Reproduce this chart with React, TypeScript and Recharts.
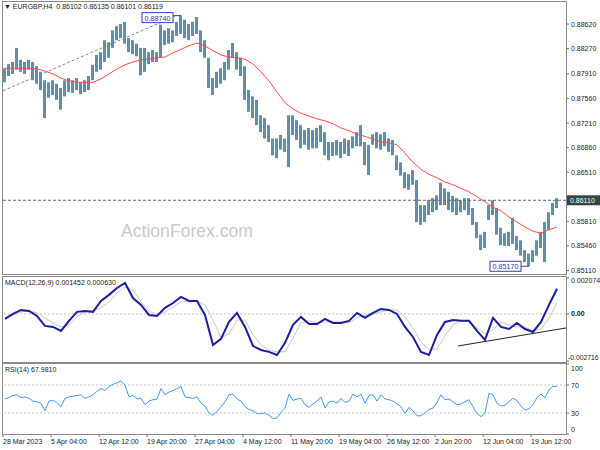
import React from 'react';
import { ComposedChart, Bar, Line, XAxis, YAxis, ReferenceLine, ReferenceDot } from 'recharts';

const FONT = '"Liberation Sans", Arial, sans-serif';

// ---- price candles (H4, sampled), high / low ----
const highs = [
  0.8799, 0.8805, 0.8808, 0.8828, 0.8811, 0.8808, 0.8811, 0.8808, 0.8802, 0.8794,
  0.8782, 0.8779, 0.8782, 0.8777, 0.8771, 0.8782, 0.8785, 0.8782, 0.8785, 0.8779,
  0.8782, 0.8788, 0.8804, 0.8818, 0.8822, 0.8839, 0.8836, 0.8853, 0.8859, 0.8862,
  0.8865, 0.8842, 0.8839, 0.8834, 0.8828, 0.8828, 0.8822, 0.8825, 0.8822, 0.8861,
  0.8853, 0.8856, 0.8853, 0.8865, 0.8874, 0.8868, 0.8862, 0.8865, 0.8872, 0.8853,
  0.8839, 0.8814, 0.8785, 0.8794, 0.8799, 0.8808, 0.8825, 0.8835, 0.8822, 0.8814,
  0.8802, 0.8768, 0.8759, 0.8754, 0.8732, 0.8728, 0.8718, 0.8699, 0.8699, 0.8704,
  0.8699, 0.8732, 0.8732, 0.8725, 0.8718, 0.8711, 0.8714, 0.8711, 0.8714, 0.8718,
  0.8708, 0.8694, 0.8694, 0.8697, 0.8694, 0.8699, 0.8697, 0.8702, 0.8708, 0.8718,
  0.8694, 0.8690, 0.8705, 0.8708, 0.8705, 0.8708, 0.8699, 0.8697, 0.8675, 0.8665,
  0.8651, 0.8648, 0.8654, 0.8640, 0.8604, 0.8604, 0.8611, 0.8614, 0.8618, 0.8636,
  0.8628, 0.8623, 0.8617, 0.8614, 0.8611, 0.8614, 0.8614, 0.8600, 0.8580, 0.8562,
  0.8566, 0.8604, 0.8611, 0.8600, 0.8572, 0.8564, 0.8566, 0.8586, 0.8560, 0.8554,
  0.8540, 0.8535, 0.8540, 0.8554, 0.8566, 0.8580, 0.8594, 0.8607, 0.8614,
];
const lows = [
  0.8779, 0.8788, 0.8791, 0.8797, 0.8794, 0.8791, 0.8797, 0.8782, 0.8777, 0.8768,
  0.8728, 0.8757, 0.8761, 0.8754, 0.8740, 0.8759, 0.8765, 0.8764, 0.8768, 0.8762,
  0.8765, 0.8768, 0.8782, 0.8794, 0.8797, 0.8808, 0.8814, 0.8828, 0.8839, 0.8842,
  0.8834, 0.8822, 0.8819, 0.8816, 0.8789, 0.8794, 0.8805, 0.8808, 0.8808, 0.8814,
  0.8832, 0.8834, 0.8836, 0.8845, 0.8848, 0.8842, 0.8839, 0.8845, 0.8848, 0.8822,
  0.8814, 0.8771, 0.8761, 0.8771, 0.8777, 0.8782, 0.8797, 0.8814, 0.8797, 0.8788,
  0.8754, 0.8737, 0.8728, 0.8718, 0.8708, 0.8699, 0.8694, 0.8675, 0.8671, 0.8683,
  0.8680, 0.8658, 0.8704, 0.8697, 0.8685, 0.8690, 0.8683, 0.8685, 0.8685, 0.8694,
  0.8675, 0.8668, 0.8674, 0.8675, 0.8671, 0.8677, 0.8674, 0.8685, 0.8688, 0.8688,
  0.8661, 0.8647, 0.8690, 0.8685, 0.8683, 0.8688, 0.8680, 0.8675, 0.8654, 0.8646,
  0.8628, 0.8626, 0.8633, 0.8580, 0.8576, 0.8580, 0.8590, 0.8594, 0.8597, 0.8604,
  0.8604, 0.8597, 0.8594, 0.8590, 0.8594, 0.8597, 0.8590, 0.8576, 0.8557, 0.8540,
  0.8543, 0.8583, 0.8590, 0.8562, 0.8547, 0.8546, 0.8546, 0.8549, 0.8540, 0.8532,
  0.8523, 0.8517, 0.8523, 0.8532, 0.8543, 0.8523, 0.8569, 0.8590, 0.8600,
];
// moving average (every second sample)
const maValues = [
  0.8799, 0.8799, 0.8799, 0.8799, 0.8798, 0.8795, 0.8791, 0.8785, 0.8781, 0.8779,
  0.8779, 0.8779, 0.8784, 0.8791, 0.8798, 0.8804, 0.8808, 0.8811, 0.8812, 0.8814,
  0.8815, 0.8821, 0.8826, 0.8831, 0.8835, 0.8831, 0.8824, 0.8818, 0.8815, 0.8814,
  0.8812, 0.8805, 0.8794, 0.8781, 0.8765, 0.8750, 0.8741, 0.8735, 0.8731, 0.8727,
  0.8724, 0.8720, 0.8714, 0.8710, 0.8705, 0.8702, 0.8698, 0.8694, 0.8693, 0.8690,
  0.8678, 0.8665, 0.8655, 0.8648, 0.8643, 0.8637, 0.8633, 0.8628, 0.8623, 0.8616,
  0.8609, 0.8601, 0.8596, 0.8587, 0.8580, 0.8573, 0.8567, 0.8564, 0.8569, 0.8573,
];
// MACD main & signal (every second sample)
const macdValues = [
  -0.00029, 0, 0.00023, 0.00017, -0.00012, -0.00069, -0.00075, -0.00098, -0.0004, 0.00012,
  0.00017, 0.00012, 0.00075, 0.0011, 0.0015, 0.00179, 0.00092, 0.00052, -0.00006, -0.00012,
  0.00035, 0.00063, 0.00098, 0.00075, 0.00075, -0.00006, -0.00179, -0.00144, -0.00046, 0.00006,
  -0.00075, -0.00185, -0.00208, -0.00219, -0.00237, -0.00167, -0.00063, -0.00017, -0.00058, -0.00058,
  -0.00029, -0.00052, -0.00052, -0.0004, 0.00006, -0.00023, 0.00006, 0.00029, 0.00023, 0,
  -0.00075, -0.00133, -0.00219, -0.00237, -0.00121, -0.00046, -0.00035, -0.0004, -0.0004, -0.00098,
  -0.0015, -0.00023, -0.00075, -0.00087, -0.00052, -0.00087, -0.00104, -0.00046, 0.00052, 0.00145,
];
const signalValues = [
  -0.00023, -0.00006, 0.00012, 0.00017, 0.00006, -0.00023, -0.00052, -0.00075, -0.00063, -0.00017,
  0.00012, 0.00017, 0.00035, 0.00069, 0.00121, 0.00156, 0.00138, 0.00069, 0.00017, -0.00006,
  0.00012, 0.0004, 0.00069, 0.00075, 0.00075, 0.00052, -0.00035, -0.00138, -0.00115, -0.00035,
  -0.00035, -0.00121, -0.00179, -0.00208, -0.00219, -0.00219, -0.00138, -0.00052, -0.0004, -0.00052,
  -0.00046, -0.00046, -0.00046, -0.00052, -0.00023, -0.00006, 0, 0.00012, 0.00023, 0.00023,
  -0.00017, -0.00081, -0.00162, -0.00208, -0.00202, -0.00127, -0.00063, -0.0004, -0.0004, -0.00081,
  -0.00115, -0.00092, -0.00046, -0.00063, -0.00075, -0.00075, -0.00098, -0.00087, -0.00023, 0.00063,
];
// RSI(14)
const rsiValues = [
  50, 52, 55, 56, 52, 53, 51, 47, 46, 44,
  33, 47, 48, 45, 39, 51, 53, 54, 55, 56,
  51, 53, 56, 61, 65, 62, 68, 71, 73, 76,
  70, 53, 55, 50, 51, 42, 47, 49, 50, 65,
  56, 60, 62, 65, 68, 53, 52, 51, 53, 44,
  40, 30, 27, 32, 39, 46, 56, 57, 50, 47,
  39, 35, 33, 29, 29, 30, 27, 22, 23, 31,
  37, 57, 48, 50, 51, 42, 38, 43, 47, 53,
  37, 46, 47, 44, 51, 45, 47, 57, 53, 57,
  44, 55, 56, 47, 56, 50, 49, 47, 43, 39,
  29, 38, 33, 26, 26, 30, 35, 37, 45, 56,
  49, 50, 46, 42, 43, 46, 49, 39, 29, 25,
  30, 58, 56, 44, 40, 41, 46, 51, 48, 40,
  34, 36, 42, 52, 57, 52, 63, 68, 68,
];

const priceTicks = [0.8862, 0.8827, 0.8791, 0.8756, 0.8721, 0.8686, 0.8651, 0.8581, 0.8546, 0.8511];
const macdTicks = [0.002074, 0, -0.002716];
const macdTickLabels = ['0.002074', '0.00', '-0.002716'];
const rsiTicks = [100, 70, 30, 0];
const timeTicks = [-0.5, 11.5, 23.5, 35.5, 47.5, 59.5, 71.5, 83.5, 95.5, 107.5, 119.5, 131.5];
const timeLabels = [
  '28 Mar 2023', '5 Apr 04:00', '12 Apr 12:00', '19 Apr 20:00', '27 Apr 04:00', '4 May 12:00',
  '11 May 20:00', '19 May 04:00', '26 May 12:00', '2 Jun 20:00', '12 Jun 04:00', '19 Jun 12:00',
];
const currentPrice = 0.8611;
const highMark = { i: 44, price: 0.8874, label: '0.88740' };
const lowMark = { i: 131, price: 0.8517, label: '0.85170' };
const priceTrend = [{ x: -0.5, y: 0.8767 }, { x: 42.5, y: 0.8873 }];
const macdTrend = [{ x: 113.25, y: -0.00185 }, { x: 140.25, y: -0.00081 }];

const candleData = highs.map((h, k) => ({
  i: k,
  range: [lows[k], h],
  ma: k % 2 === 0 ? maValues[k / 2] : null,
}));
const macdData = macdValues.map((v, k) => ({ i: 2 * k, macd: v, signal: signalValues[k] }));
const rsiData = rsiValues.map((v, k) => ({ i: k, rsi: v }));

const X_DOMAIN: [number, number] = [-0.5, 140.25];
const TEXT = '#1a1a1a';

const Mark = (side: 'up' | 'down', label: string) => (props: any) => {
  const { cx, cy } = props;
  const top = side === 'up' ? cy - 3 : cy - 5;
  return (
    <g>
      <line x1={cx - 8} y1={cy} x2={cx} y2={cy} stroke="#3a3ab8" strokeWidth={1} />
      <rect x={cx - 39} y={top} width={31} height={10} fill="#ffffff" stroke="#3a3ab8" strokeWidth={1} />
      <text x={cx - 23.5} y={top + 8} textAnchor="middle" fontSize={7.2} fontFamily={FONT} fill="#3434b0">
        {label}
      </text>
    </g>
  );
};

const PriceLabel = (props: any) => {
  const vb = props.viewBox || {};
  const x = vb.x + vb.width + 1;
  const y = vb.y;
  return (
    <g>
      <rect x={x} y={y - 5} width={33} height={10} fill="#344646" />
      <text x={x + 3} y={y + 2.6} fontSize={7} fontFamily={FONT} fill="#ffffff">0.86110</text>
    </g>
  );
};

const MacdTick = (props: any) => {
  const { x, y, payload, index } = props;
  const dy = index === 0 ? 5 : index === 2 ? -1.5 : 2.5;
  const dx = index === 2 ? -3 : 0;
  return (
    <text x={x + dx} y={y + dy} fontSize={index === 2 ? 6.8 : 7} fontFamily={FONT} fill={TEXT} fontWeight={index === 1 ? 'bold' : 'normal'}>
      {macdTickLabels[macdTicks.indexOf(payload.value)]}
    </text>
  );
};

const RsiTick = (props: any) => {
  const { x, y, payload } = props;
  const v = payload.value;
  const dy = v === 100 ? 6.5 : v === 0 ? -2 : 2.5;
  return (
    <text x={x} y={y + dy} fontSize={7} fontFamily={FONT} fill={TEXT}>
      {String(v)}
    </text>
  );
};

const TimeTick = (props: any) => {
  const { x, y, index } = props;
  return (
    <text x={x} y={y + 6} fontSize={7} fontFamily={FONT} fill={TEXT}>
      {timeLabels[index]}
    </text>
  );
};

const frame = (top: number, height: number): React.CSSProperties => ({
  position: 'absolute',
  left: 2,
  top,
  width: 565,
  height,
  boxSizing: 'border-box',
  border: '1px solid #8a8a8a',
  pointerEvents: 'none',
});

const label = (left: number, top: number): React.CSSProperties => ({
  position: 'absolute',
  left,
  top,
  fontFamily: FONT,
  fontSize: 7,
  color: TEXT,
  whiteSpace: 'nowrap',
  lineHeight: '8px',
});

export default function App() {
  return (
    <div style={{ position: 'absolute', left: 0, top: 0, width: 600, height: 450, background: '#ffffff', overflow: 'hidden' }}>
      {/* main price panel */}
      <div style={{ position: 'absolute', left: 0, top: 0 }}>
        <ComposedChart width={600} height={276} data={candleData} margin={{ top: 2, right: 0, bottom: 2, left: 3 }}>
          <XAxis dataKey="i" type="number" domain={X_DOMAIN} hide allowDataOverflow />
          <YAxis
            orientation="right"
            type="number"
            domain={[0.8506, 0.88934]}
            allowDataOverflow
            ticks={priceTicks}
            interval={0}
            tickFormatter={(v: number) => v.toFixed(5)}
            tick={{ fontSize: 7, fill: TEXT, fontFamily: FONT }}
            tickSize={3}
            tickMargin={2}
            tickLine={{ stroke: '#666' }}
            axisLine={false}
            width={34}
          />
          <ReferenceLine segment={priceTrend} stroke="#7d8a80" strokeDasharray="3 2" strokeWidth={1} />
          <Bar dataKey="range" fill="#628ea8" barSize={3} isAnimationActive={false} />
          <Line dataKey="ma" stroke="#ff4a4a" strokeWidth={1} dot={false} connectNulls isAnimationActive={false} />
          <ReferenceLine y={currentPrice} stroke="#666" strokeDasharray="3 2" label={<PriceLabel />} />
          <ReferenceDot x={highMark.i} y={highMark.price} shape={Mark('up', highMark.label)} />
          <ReferenceDot x={lowMark.i} y={lowMark.price} shape={Mark('down', lowMark.label)} />
        </ComposedChart>
      </div>
      <div style={label(4, 3)}>▼ EURGBP,H4&nbsp; 0.86102 0.86135 0.86101 0.86119</div>
      <div style={{ position: 'absolute', left: 121, top: 221, fontFamily: FONT, fontSize: 17.6, color: '#c9c9c9', whiteSpace: 'nowrap' }}>
        ActionForex.com
      </div>

      {/* MACD panel */}
      <div style={{ position: 'absolute', left: 0, top: 270 }}>
        <ComposedChart width={600} height={100} data={macdData} margin={{ top: 8, right: 0, bottom: 9, left: 3 }}>
          <XAxis dataKey="i" type="number" domain={X_DOMAIN} hide allowDataOverflow />
          <YAxis
            orientation="right"
            type="number"
            domain={[-0.002716, 0.002074]}
            allowDataOverflow
            ticks={macdTicks}
            interval={0}
            tick={<MacdTick />}
            tickSize={3}
            tickMargin={2}
            tickLine={{ stroke: '#666' }}
            axisLine={false}
            width={34}
          />
          <ReferenceLine y={0} stroke="#c4c4c4" strokeDasharray="2 2" />
          <Line dataKey="signal" stroke="#c8c8c8" strokeWidth={1} dot={false} isAnimationActive={false} />
          <Line dataKey="macd" stroke="#1c1ca0" strokeWidth={2} dot={false} isAnimationActive={false} />
          <ReferenceLine segment={macdTrend} stroke="#222" strokeWidth={1} ifOverflow="visible" />
        </ComposedChart>
      </div>
      <div style={label(5, 279)}>MACD(12,26,9) 0.001452 0.000630</div>

      {/* RSI panel */}
      <div style={{ position: 'absolute', left: 0, top: 360 }}>
        <ComposedChart width={600} height={90} data={rsiData} margin={{ top: 4, right: 0, bottom: 0, left: 3 }}>
          <XAxis
            dataKey="i"
            type="number"
            domain={X_DOMAIN}
            allowDataOverflow
            ticks={timeTicks}
            interval={0}
            tick={<TimeTick />}
            tickSize={3}
            tickMargin={1}
            tickLine={{ stroke: '#666' }}
            axisLine={false}
            height={16}
          />
          <YAxis
            orientation="right"
            type="number"
            domain={[0, 100]}
            allowDataOverflow
            ticks={rsiTicks}
            interval={0}
            tick={<RsiTick />}
            tickSize={3}
            tickMargin={2}
            tickLine={{ stroke: '#666' }}
            axisLine={false}
            width={34}
          />
          <ReferenceLine y={70} stroke="#c8c8c8" strokeDasharray="2 2" />
          <ReferenceLine y={30} stroke="#c8c8c8" strokeDasharray="2 2" />
          <Line dataKey="rsi" stroke="#3d9bff" strokeWidth={1} dot={false} isAnimationActive={false} />
        </ComposedChart>
      </div>
      <div style={label(5, 366)}>RSI(14) 67.9810</div>

      <div style={frame(1, 274)} />
      <div style={frame(276, 87)} />
      <div style={frame(363, 72)} />
    </div>
  );
}
